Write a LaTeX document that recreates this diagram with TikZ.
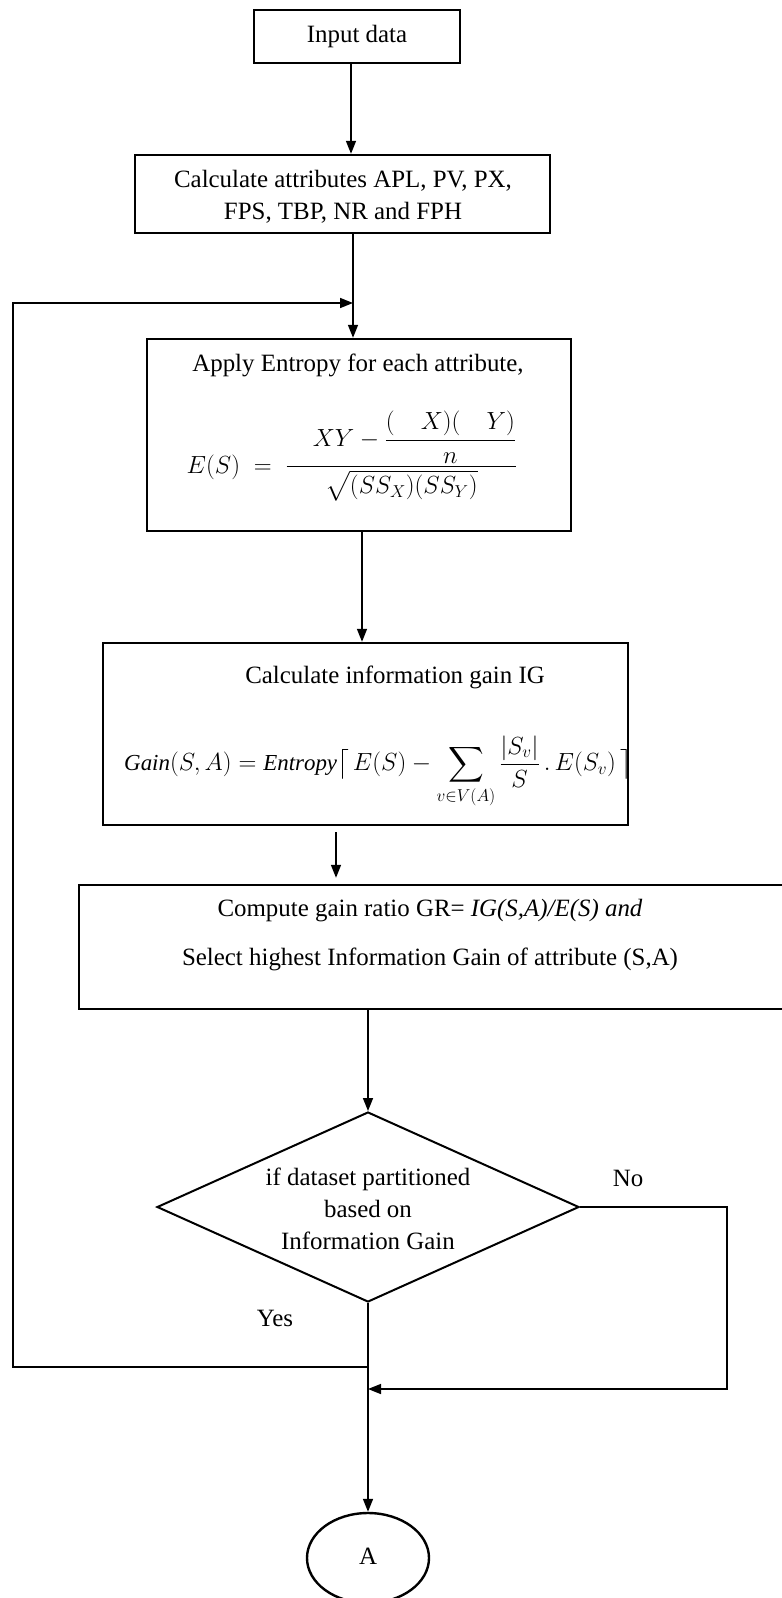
\documentclass[tikz,border=0pt]{standalone}
\usepackage{amsmath}
\usepackage{fontspec}
\setmainfont{Liberation Serif}
\usetikzlibrary{arrows.meta,shapes.geometric}

\begin{document}
\begin{tikzpicture}[x=1bp,y=-1bp,
  box/.style={draw, line width=2.4bp, inner sep=0pt},
  lbl/.style={inner sep=0pt, font=\fontsize{25}{30}\selectfont},
  eq/.style={inner sep=0pt, font=\fontsize{24}{28}\selectfont},
  wire/.style={line width=1.6bp},
  arr/.style={line width=1.6bp, -{Triangle[length=13bp,width=10bp]}}]

\useasboundingbox (0,0) rectangle (782,1598);

% process boxes
\node[box, minimum width=206bp, minimum height=53bp] (inp) at (357,36.5) {};
\node[box, minimum width=415bp, minimum height=78bp] (calc) at (342.5,194) {};
\node[box, minimum width=424bp, minimum height=192bp] (ent) at (359,435) {};
\node[box, minimum width=525bp, minimum height=182bp] (ig) at (365.5,734) {};
\node[box, minimum width=711bp, minimum height=124bp] (gr) at (434.5,947) {};

% decision and connector
\node[draw, line width=2bp, shape=diamond, aspect=2.22, minimum width=422bp,
      minimum height=190bp, inner sep=0pt] (dec) at (368,1207) {};
\node[draw, line width=2.4bp, shape=ellipse, minimum width=122bp,
      minimum height=90bp, inner sep=0pt] (endA) at (368,1558) {};

% texts
\node[lbl] (tinp) at (357,37) {Input data};
\node[lbl, align=center, font=\fontsize{25}{32}\selectfont] (tcalc) at (343,197)
  {Calculate attributes APL, PV, PX,\\FPS, TBP, NR and FPH};
\node[lbl] (tent) at (358,365) {Apply Entropy for each attribute,};
\node[eq] (fent) at (352,456)
  {$E(S) \;=\; \dfrac{\hphantom{\textstyle\sum}XY - \dfrac{(\hphantom{\textstyle\sum}X)(\hphantom{\textstyle\sum}Y)}{n}}{\sqrt{(SS_X)(SS_Y)}}$};
\node[lbl] (tig) at (395,677) {Calculate information gain IG};
\node[eq, font=\fontsize{23}{27}\selectfont] (fig) at (378,772)
  {$\displaystyle \mathit{Gain}(S,A) = \mathit{Entropy}\bigl\lceil\, E(S) - \sum_{v\in V(A)} \frac{|S_v|}{S}\,.\,E(S_v)\,\bigr\rceil$};
\node[lbl] (tgr) at (430,911) {Compute gain ratio GR= \textit{IG(S,A)/E(S) and}};
\node[lbl] (tsel) at (430,959) {Select highest Information Gain of attribute (S,A)};
\node[lbl, align=center, font=\fontsize{25}{32}\selectfont] (tdec) at (368,1209)
  {if dataset partitioned\\based on\\Information Gain};
\node[lbl] (tno) at (628,1178) {No};
\node[lbl] (tyes) at (275,1318) {Yes};
\node[lbl] (tA) at (368,1556) {A};

% columns and corners of the connectors
\coordinate (xa) at (351,0);
\coordinate (xb) at (353,0);
\coordinate (xc) at (362,0);
\coordinate (xd) at (336,0);
\coordinate (xe) at (368,0);
\coordinate (noR) at (727,1207);
\coordinate (merge) at (368,1389);
\coordinate (yesJ) at (368,1367);
\coordinate (loopL) at (13,1367);
\coordinate (loopT) at (353,303);

% connectors
\draw[arr] (inp.south -| xa) -- (calc.north -| xa);
\draw[arr] (calc.south -| xb) -- (ent.north -| xb);
\draw[arr] (ent.south -| xc) -- (ig.north -| xc);
\draw[arr, shorten <=6bp, shorten >=6bp] (ig.south -| xd) -- (gr.north -| xd);
\draw[arr] (gr.south -| xe) -- (dec.north);
\draw[arr] (dec.south) -- (endA.north);
\draw[arr] (dec.east) -- (noR) |- (merge);
\draw[arr] (yesJ) -- (loopL) |- (loopT);

\end{tikzpicture}
\end{document}
